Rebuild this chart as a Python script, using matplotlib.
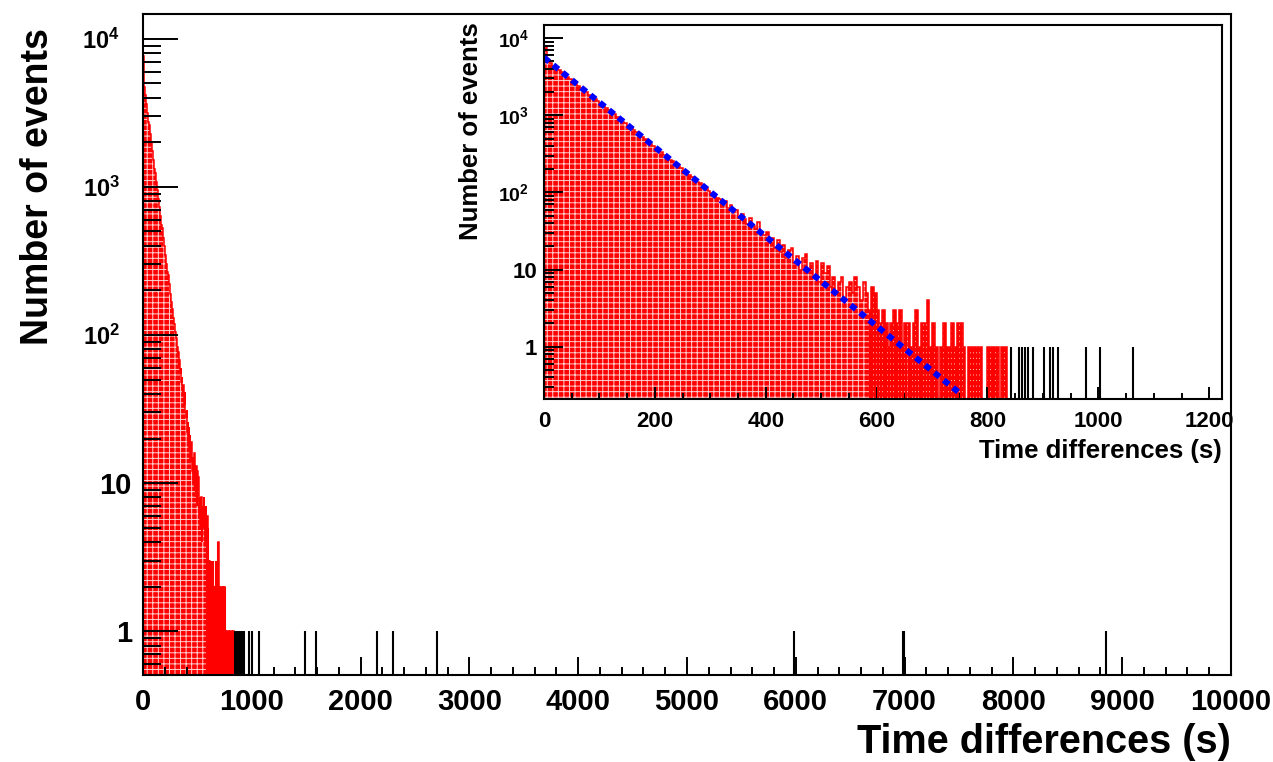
import numpy as np
import matplotlib
matplotlib.use("Agg")
import matplotlib.pyplot as plt
from matplotlib.ticker import MultipleLocator, LogLocator, NullFormatter
from matplotlib.transforms import ScaledTranslation

plt.rcParams['font.family'] = ['Liberation Sans', 'DejaVu Sans']
plt.rcParams['font.weight'] = 'bold'
plt.rcParams['mathtext.fontset'] = 'custom'
plt.rcParams['mathtext.rm'] = 'Liberation Sans:bold'
plt.rcParams['mathtext.bf'] = 'Liberation Sans:bold'
plt.rcParams['hatch.linewidth'] = 0.7

# histogram: 5 s bins starting at 0 (fitted range, red)
BIN = 5
red_counts = [
    7600, 5150, 4760, 4400, 4150, 3900, 3600, 3410, 3150, 2990,
    2760, 2610, 2420, 2280, 2120, 2000, 1850, 1750, 1630, 1520,
    1430, 1320, 1250, 1170, 1080, 1030, 950, 900, 830, 790,
    730, 690, 640, 600, 555, 530, 495, 455, 430, 400,
    378, 348, 330, 302, 290, 265, 255, 232, 222, 206,
    190, 182, 166, 158, 150, 136, 131, 118, 115, 104,
    97, 95, 84, 83, 72, 77, 62, 68, 55, 60,
    48, 52, 45, 39, 46, 37, 34, 41, 30, 28,
    31, 22, 26, 19, 24, 17, 21, 14, 18, 19,
    12, 15, 10, 14, 16, 9, 12, 8, 13, 7,
    12, 9, 11, 6, 8, 5, 7, 8, 4, 6,
    7, 5, 8, 6, 4, 7, 5, 3, 6, 5,
    3, 2, 3, 2, 1, 2, 3, 2, 3, 1,
    2, 2, 1, 2, 3, 1, 2, 2, 4, 1,
    2, 1, 0, 1, 2, 1, 1, 2, 1, 2,
    2, 1, 0, 1, 1, 1, 1, 1, 0, 0,
    1, 1, 1, 1, 0, 1, 1,
]
# single entries beyond the fitted range (bin start, s)
black_times = [840, 855, 860, 865, 870, 880, 900, 910, 915, 925, 975, 1000,
               1060, 1490, 1590, 2150, 2295, 2700, 5985, 6985, 6990, 8845]
# exponential fit drawn in the inset (end points)
fit_t = [0, 750]
fit_n = [5600, 0.25]

TAIL_START = 117  # bins from here on look like separate spikes

edges_red = np.arange(len(red_counts) + 1) * BIN
centers_red = edges_red[:-1] + BIN / 2
black_centers = np.array(black_times) + BIN / 2


def draw_hist(ax, floor):
    red = np.array(red_counts, dtype=float)
    red = np.where(red > 0, red, floor)
    ax.stairs(red, edges_red, baseline=floor, fill=True, facecolor='red', lw=0)
    ax.stairs(red, edges_red, baseline=floor, fill=True, facecolor='none',
              edgecolor='#ffd0d0', hatch='+++', lw=0)
    tail = np.array(red_counts[TAIL_START:], dtype=float)
    tc = centers_red[TAIL_START:]
    ax.vlines(tc[tail > 0], floor, tail[tail > 0], color='red', lw=1.5)
    ax.stairs(red, edges_red, baseline=floor, color='red', lw=1.1)
    ax.vlines(black_centers, floor, np.ones(len(black_centers)), color='black', lw=1.5)


def log_labels(n_max):
    labs = []
    for p in range(n_max + 1):
        if p == 0:
            labs.append('1')
        elif p == 1:
            labs.append('10')
        else:
            labs.append(r'$\mathbf{10^{%d}}$' % p)
    return labs


def shift_power_labels(axis, fig, px, size):
    # ROOT puts the 10^n labels a bit further left than the plain ones
    for tick in axis.get_major_ticks():
        lbl = tick.label1
        if '^' in lbl.get_text():
            lbl.set_fontsize(size)
            lbl.set_transform(lbl.get_transform() +
                              ScaledTranslation(-px / 100, 0, fig.dpi_scale_trans))


fig = plt.figure(figsize=(12.73, 7.62), dpi=100)

# main pad
ax = fig.add_axes([143 / 1273, 1 - 675 / 762, (1231 - 143) / 1273, (675 - 14) / 762])
draw_hist(ax, 1e-3)
ax.set_yscale('log')
ax.set_xlim(0, 10000)
ax.set_ylim(0.506, 14700)
yt = [1, 10, 100, 1000, 10000]
ax.set_yticks(yt, labels=log_labels(4))
ax.yaxis.set_minor_locator(LogLocator(base=10, subs=np.arange(2, 10), numticks=20))
ax.yaxis.set_minor_formatter(NullFormatter())
ax.xaxis.set_major_locator(MultipleLocator(1000))
ax.xaxis.set_minor_locator(MultipleLocator(200))
ax.tick_params(axis='both', which='both', direction='in', width=1.4, color='black',
               top=False, right=False)
ax.tick_params(axis='y', which='major', length=25, labelsize=21, pad=8)
ax.tick_params(axis='y', which='minor', length=13)
ax.tick_params(axis='x', which='major', length=13, labelsize=21, pad=9)
ax.tick_params(axis='x', which='minor', length=6)
shift_power_labels(ax.yaxis, fig, 12, 17)
for s in ax.spines.values():
    s.set_linewidth(1.5)
fig.text(1231 / 1273, 1 - 753 / 762, 'Time differences (s)', ha='right', va='baseline',
         fontsize=28.5, fontweight='bold')
fig.text(38 / 1273, 1 - 28 / 762, 'Number of events', ha='center', va='top',
         rotation=90, fontsize=27, fontweight='bold')

# inset pad
axi = fig.add_axes([544 / 1273, 1 - 399 / 762, (1222 - 544) / 1273, (399 - 25) / 762])
draw_hist(axi, 1e-3)
axi.plot(fit_t, fit_n, color='blue', lw=4.3, ls=(0, (1.1, 0.9)), dash_capstyle='butt')
axi.set_yscale('log')
axi.set_xlim(0, 1223)
axi.set_ylim(0.21, 14800)
axi.set_yticks(yt, labels=log_labels(4))
axi.yaxis.set_minor_locator(LogLocator(base=10, subs=np.arange(2, 10), numticks=20))
axi.yaxis.set_minor_formatter(NullFormatter())
axi.xaxis.set_major_locator(MultipleLocator(200))
axi.xaxis.set_minor_locator(MultipleLocator(50))
axi.tick_params(axis='both', which='both', direction='in', width=1.4, color='black',
                top=False, right=False)
axi.tick_params(axis='y', which='major', length=14, labelsize=16, pad=5)
axi.tick_params(axis='y', which='minor', length=7)
axi.tick_params(axis='x', which='major', length=9, labelsize=16, pad=9)
axi.tick_params(axis='x', which='minor', length=4.5)
shift_power_labels(axi.yaxis, fig, 8, 14)
for s in axi.spines.values():
    s.set_linewidth(1.5)
fig.text(1222 / 1273, 1 - 458 / 762, 'Time differences (s)', ha='right', va='baseline',
         fontsize=18.5, fontweight='bold')
fig.text(471 / 1273, 1 - 22 / 762, 'Number of events', ha='center', va='top',
         rotation=90, fontsize=18.5, fontweight='bold')

fig.savefig('out.png', dpi=100)
